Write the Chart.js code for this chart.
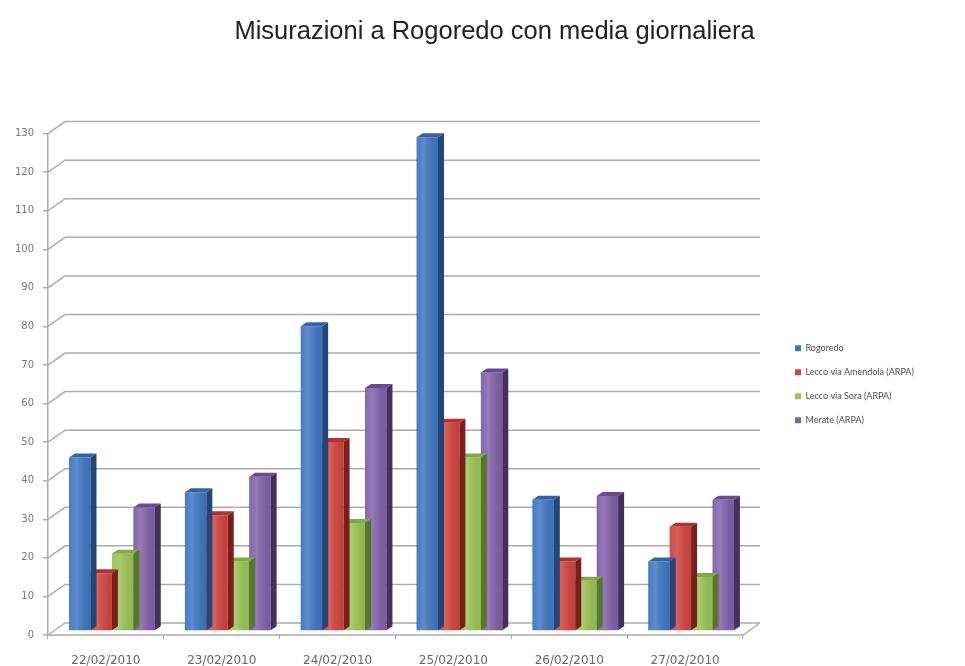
<!DOCTYPE html>
<html>
<head>
<meta charset="utf-8">
<script src="https://cdn.jsdelivr.net/npm/chart.js@4.4.1/dist/chart.umd.min.js"></script>
<style>
  html, body { margin: 0; padding: 0; background: #fff; }
</style>
</head>
<body>
<canvas id="c" width="965" height="666"></canvas>
<script>
const days = ['22/02/2010', '23/02/2010', '24/02/2010', '25/02/2010', '26/02/2010', '27/02/2010'];
const rogoredo = [45, 36, 79, 128, 34, 18];
const amendola = [15, 30, 49, 54, 18, 27];
const sora = [20, 18, 28, 45, 13, 14];
const merate = [32, 40, 63, 67, 35, 34];
const seriesNames = ['Rogoredo', 'Lecco via Amendola (ARPA)', 'Lecco via Sora (ARPA)', 'Merate (ARPA)'];
const yMin = 0, yMax = 130, yStep = 10;

// front / top / side colours of the 3D columns
const faces = [
    { front: '#3f76c3', top: '#3363a8', side: '#22467a' },
    { front: '#d2433d', top: '#b3322d', side: '#7a201c' },
    { front: '#9ac454', top: '#82a943', side: '#58772a' },
    { front: '#8060aa', top: '#6a4b93', side: '#44305e' }
];

// depth of the wall/floor and of each column
const WALL = { dx: 17, dy: 12 };
const BAR = { dx: 6, dy: 4, shiftX: 6, shiftY: -4 };

const gridColor = '#acacac';
const LEGEND_X = 780;   // left edge of the legend box

const box3d = {
    id: 'box3d',
    beforeDatasetsDraw(chart) {
        const { ctx, chartArea: a, scales } = chart;
        const ys = scales.y;
        ctx.save();
        ctx.strokeStyle = gridColor;
        ctx.lineWidth = 1.5;
        for (let v = yMin; v <= yMax; v += yStep) {
            const y = ys.getPixelForValue(v);
            ctx.beginPath();
            ctx.moveTo(a.left, y);
            ctx.lineTo(a.left + WALL.dx, y - WALL.dy);
            ctx.lineTo(a.right + WALL.dx, y - WALL.dy);
            ctx.stroke();
        }
        // floor
        const y0 = ys.getPixelForValue(0);
        ctx.beginPath();
        ctx.moveTo(a.left, y0);
        ctx.lineTo(a.right, y0);
        ctx.lineTo(a.right + WALL.dx, y0 - WALL.dy);
        ctx.stroke();
        ctx.restore();

        ctx.save();
        ctx.translate(BAR.shiftX, BAR.shiftY);
    },
    afterDatasetDraw(chart, args) {
        const { ctx } = chart;
        const f = faces[args.index];
        args.meta.data.forEach((bar) => {
            const l = bar.x - bar.width / 2, r = bar.x + bar.width / 2;
            const t = bar.y, b = bar.base;
            // light sheen on the front
            const g = ctx.createLinearGradient(l, 0, r, 0);
            g.addColorStop(0, 'rgba(255,255,255,0.04)');
            g.addColorStop(0.35, 'rgba(255,255,255,0.16)');
            g.addColorStop(1, 'rgba(0,0,0,0.06)');
            ctx.fillStyle = g;
            ctx.fillRect(l, t, r - l, b - t);
            // top
            ctx.fillStyle = f.top;
            ctx.beginPath();
            ctx.moveTo(l, t);
            ctx.lineTo(l + BAR.dx, t - BAR.dy);
            ctx.lineTo(r + BAR.dx, t - BAR.dy);
            ctx.lineTo(r, t);
            ctx.closePath();
            ctx.fill();
            // side
            ctx.fillStyle = f.side;
            ctx.beginPath();
            ctx.moveTo(r, t);
            ctx.lineTo(r + BAR.dx, t - BAR.dy);
            ctx.lineTo(r + BAR.dx, b - BAR.dy);
            ctx.lineTo(r, b);
            ctx.closePath();
            ctx.fill();
        });
    },
    afterDatasetsDraw(chart) {
        chart.ctx.restore();
    }
};

const seriesData = [rogoredo, amendola, sora, merate];

new Chart(document.getElementById('c').getContext('2d'), {
    type: 'bar',
    data: {
        labels: days,
        datasets: seriesData.map((d, i) => ({
            label: seriesNames[i],
            data: d,
            backgroundColor: faces[i].front,
            borderWidth: 0,
            categoryPercentage: 0.74,
            barPercentage: 1
        }))
    },
    options: {
        responsive: false,
        animation: false,
        devicePixelRatio: 1,
        // negative right padding keeps the title centred where the original has it
        layout: { padding: { left: 0, right: -24, top: 0, bottom: 0 } },
        scales: {
            x: {
                grid: { display: true, drawOnChartArea: false, tickLength: 4, color: gridColor, offset: true },
                border: { display: false },
                ticks: { color: '#666', font: { family: 'DejaVu Sans', size: 12 }, padding: 15 },
                afterFit: (s) => { s.height = 31; }
            },
            y: {
                min: yMin,
                max: yMax,
                grid: { drawOnChartArea: false, tickLength: 5, color: gridColor, lineWidth: 1.5 },
                border: { color: gridColor, width: 1.5 },
                ticks: { stepSize: yStep, color: '#777', font: { family: 'DejaVu Sans', size: 10 }, padding: 9 },
                afterFit: (s) => { s.width = 48; }
            },
            // empty space between plot and legend
            gapA: {
                type: 'linear',
                position: 'right',
                weight: 0,
                grid: { display: false },
                border: { display: false },
                ticks: { display: false },
                afterFit: (s) => { s.width = 37; }
            },
            // empty space right of the legend
            gapB: {
                type: 'linear',
                position: 'right',
                weight: 2000,
                grid: { display: false },
                border: { display: false },
                ticks: { display: false },
                afterFit: (s) => { s.width = Math.max(0, 989 - LEGEND_X - s.chart.legend.width); }
            }
        },
        plugins: {
            title: {
                display: true,
                text: 'Misurazioni a Rogoredo con media giornaliera',
                color: '#222',
                font: { family: 'Liberation Sans', size: 25.5, weight: 'normal' },
                padding: { top: 17, bottom: 86 }
            },
            legend: {
                position: 'right',
                align: 'center',
                fullSize: false,
                maxWidth: 190,
                labels: {
                    boxWidth: 6,
                    boxHeight: 6,
                    padding: 15,
                    color: '#4d4d4d',
                    font: { family: 'Lato', size: 9 }
                }
            },
            tooltip: { enabled: false }
        }
    },
    plugins: [box3d]
});
</script>
</body>
</html>
